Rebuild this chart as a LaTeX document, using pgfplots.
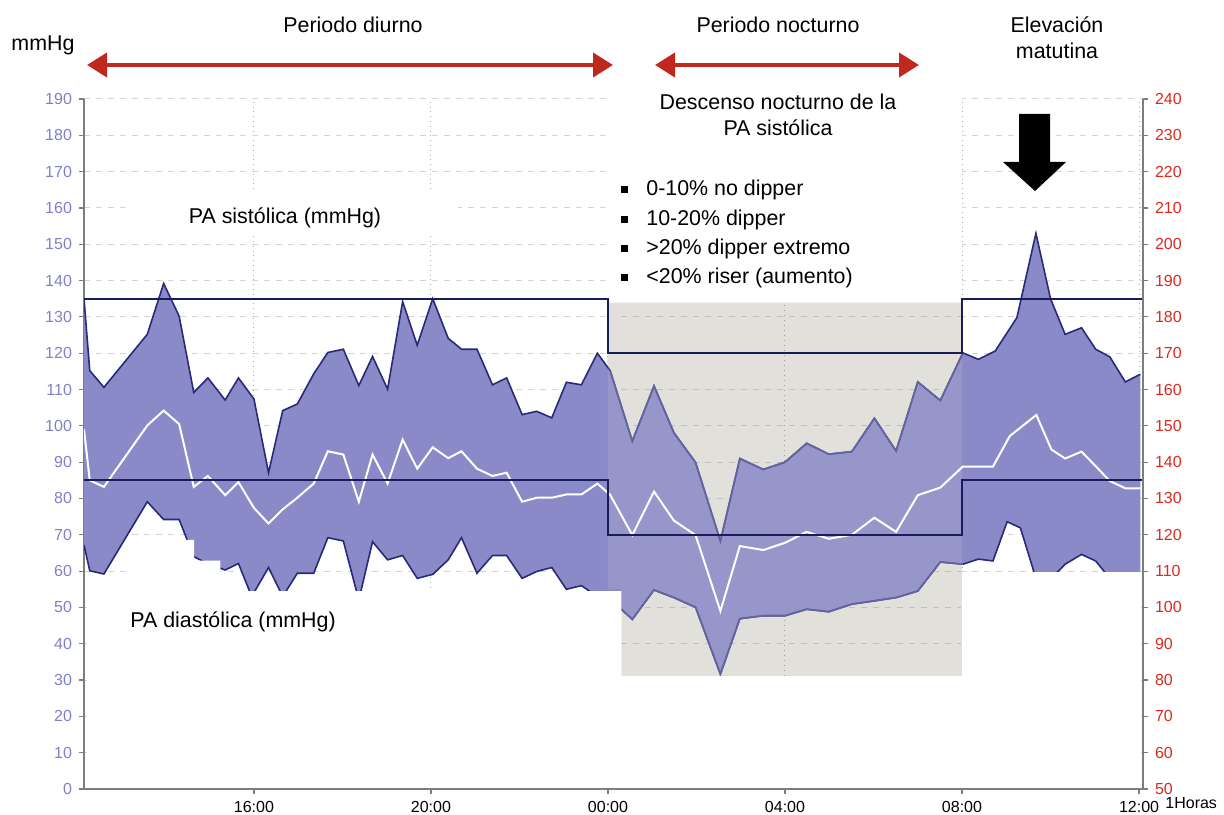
\documentclass[border=0pt]{standalone}
\usepackage{fontspec}
\setmainfont{Liberation Sans}
\usepackage{pgfplots}
\usepackage{pgfplotstable}
\pgfplotsset{compat=1.18}
\usetikzlibrary{arrows.meta}
\definecolor{band}{RGB}{138,138,200}
\definecolor{navy}{RGB}{40,42,120}
\definecolor{navylight}{RGB}{100,100,160}
\definecolor{thr}{RGB}{24,28,90}
\definecolor{ngrey}{RGB}{226,224,219}
\definecolor{nightband}{RGB}{160,150,200}
\definecolor{tickblue}{RGB}{128,128,200}
\definecolor{tickred}{RGB}{222,40,28}
\definecolor{arrred}{RGB}{192,40,30}
\definecolor{gridc}{RGB}{212,212,212}
\definecolor{axisc}{RGB}{125,125,125}
\newcommand\ann{\fontsize{10.7}{13}\selectfont}
\newcommand\tck{\fontsize{8}{9.5}\selectfont}

% systolic (upper envelope)
\pgfplotstableread{
h v
0.16 135
0.29 115.2
0.61 110.6
1.59 125.2
1.96 139.2
2.31 130.2
2.64 109.2
2.96 113.2
3.35 107.1
3.65 113.2
4.00 107.4
4.33 87.1
4.65 104.2
4.98 106.0
5.35 114.3
5.67 120.2
6.02 121.1
6.37 111.1
6.68 119.1
7.02 110.1
7.36 134.2
7.69 122.2
8.04 135.0
8.39 124.1
8.69 121.1
9.04 121.1
9.39 111.3
9.71 113.2
10.06 103.1
10.39 104.0
10.73 102.2
11.06 112.0
11.40 111.3
11.76 120.0
12.05 115.2
12.55 95.8
13.04 111.0
13.49 98.1
13.98 89.9
14.54 68.3
14.98 91.0
15.51 88.0
16.00 90.0
16.49 95.2
16.99 92.2
17.51 92.9
18.02 102.1
18.51 93.1
19.00 112.1
19.51 107.0
20.02 120.1
20.37 118.3
20.75 120.6
21.24 129.8
21.67 153
22.00 135
22.33 125.2
22.70 127.0
23.02 121.1
23.34 119.0
23.69 112.1
24.03 114.2
}\sys

% mean (white line)
\pgfplotstableread{
h v
0.16 99
0.29 85
0.61 83.2
1.59 100.1
1.96 104.2
2.31 100.5
2.64 83.2
2.96 86.2
3.35 80.9
3.65 84.5
4.00 77.4
4.33 73.1
4.65 77.0
4.98 80.2
5.35 84.1
5.67 93.0
6.02 92.1
6.37 79.1
6.68 92.1
7.02 84.1
7.36 96.2
7.69 88.2
8.04 94.1
8.39 91.1
8.69 93.0
9.04 88.2
9.39 86.2
9.71 87.1
10.06 79.1
10.39 80.2
10.73 80.2
11.06 81.1
11.40 81.1
11.76 84.1
12.05 81
12.55 69.9
13.04 81.9
13.49 73.9
13.98 69.9
14.54 49.0
14.98 66.9
15.51 65.8
16.00 67.8
16.49 70.8
16.99 68.9
17.51 70.0
18.02 74.7
18.51 70.8
19.00 80.9
19.51 83.0
20.02 88.8
20.70 88.8
21.08 97.2
21.68 103.0
22.02 93.5
22.33 91.0
22.70 92.9
23.02 88.9
23.34 84.8
23.69 82.8
24.03 82.8
}\mean

% diastolic (lower envelope), right to left
\pgfplotstableread{
h v
24.03 58
23.34 58
23.02 62.8
22.70 64.6
22.33 61.9
22.02 58
21.67 58
21.32 71.9
21.02 73.6
20.70 62.8
20.37 63.3
20.02 61.9
19.51 62.5
19.00 54.5
18.51 52.7
18.02 51.8
17.51 50.9
16.99 48.8
16.49 49.5
16.00 47.7
15.51 47.7
14.98 46.9
14.54 31.6
13.98 50.0
13.49 52.7
13.04 54.8
12.55 46.7
12.30 49.5
12.05 52
11.76 53
11.40 56.0
11.06 55
10.73 61.0
10.39 59.9
10.06 58.0
9.71 64.3
9.39 64.3
9.04 59.4
8.69 69.2
8.39 63.1
8.04 59.1
7.69 58.0
7.36 64.3
7.02 63.1
6.68 68.1
6.37 52
6.02 68.3
5.67 69.2
5.35 59.4
4.98 59.4
4.65 53
4.33 61.0
3.95 53
3.65 62.1
3.35 60.3
2.96 62
2.64 64
2.31 74.2
1.96 74.2
1.59 79.1
0.61 59.2
0.29 60.1
0.16 67.2
}\dia

% band polygon = systolic followed by diastolic (right to left)
\pgfplotstablevertcat{\band}{\sys}
\pgfplotstablevertcat{\band}{\dia}

\begin{document}
\begin{tikzpicture}[x=0.5pt,y=0.5pt]
\useasboundingbox (0,0) rectangle (1224,814);
\begin{axis}[
  at={(42pt,12.5pt)}, anchor=south west,
  width=529.5pt, height=345pt, scale only axis,
  xmin=0.16, xmax=24.09, ymin=0, ymax=190,
  axis lines*=left,
  axis line style={axisc, line width=1pt},
  xtick={4,8,12,16,20,24},
  xticklabels={16:00,20:00,00:00,04:00,08:00,12:00},
  ytick={0,10,...,190},
  ymajorgrids, xmajorgrids,
  y grid style={gridc, dashed, line width=0.5pt},
  x grid style={gridc!80!black, dotted, line width=0.5pt},
  tick align=outside, major tick length=2.5pt,
  tick style={axisc, line width=0.6pt},
  tick label style={font=\tck},
  yticklabel style={tickblue},
  /pgf/number format/assume math mode=true,
]
% night background
\addplot[draw=none, fill=ngrey] coordinates {(12,55) (12,133.9) (20,133.9) (20,31) (12.3,31) (12.3,55)};
\pgfplotsinvokeforeach{40,50,...,130}{
  \addplot[gridc!88!black, dashed, line width=0.5pt] coordinates {(12.3,#1) (19.98,#1)};
}
\addplot[gridc!70!black, dotted, line width=0.5pt] coordinates {(16,31) (16,133.9)};
% band
\addplot[draw=none, fill=band] table[x=h,y=v] {\band};
\addplot[navy, line width=0.8pt] table[x=h,y=v] {\sys};
\addplot[navy, line width=0.8pt] table[x=h,y=v] {\dia};
% night overlay
\addplot[draw=none, fill=ngrey, fill opacity=0.15] coordinates {(12,55) (12,133.9) (20,133.9) (20,31) (12.3,31) (12.3,55)};
\addplot[navylight, line width=0.8pt, restrict x to domain=12:20.03] table[x=h,y=v] {\sys};
\addplot[navylight, line width=0.8pt, restrict x to domain=12:20.03] table[x=h,y=v] {\dia};
\addplot[white, line width=1pt] table[x=h,y=v] {\mean};
% white patches (collage)
\addplot[draw=none, fill=white] coordinates {(1.13,0.8) (1.13,68.6) (2.65,68.6) (2.65,62.9) (3.24,62.9) (3.24,54.5) (12.3,54.5) (12.3,0.8)};
\addplot[draw=none, fill=white] coordinates {(0.22,0.8) (0.22,54.5) (1.2,54.5) (1.2,0.8)};
\addplot[draw=none, fill=white] coordinates {(12.2,0.8) (12.2,31) (20.02,31) (20.02,0.8)};
\addplot[draw=none, fill=white] coordinates {(20.0,0.8) (20.0,59.8) (24.04,59.8) (24.04,0.8)};
\addplot[draw=none, fill=white] coordinates {(11.95,134) (11.95,191) (20.0,191) (20.0,134)};
\addplot[draw=none, fill=white] coordinates {(1.1,152.3) (1.1,164) (8.6,164) (8.6,152.3)};
% thresholds
\addplot[thr, line width=1.1pt] coordinates {(0.16,135) (12,135) (12,120) (20,120) (20,135) (24.09,135)};
\addplot[thr, line width=1.1pt] coordinates {(0.16,85) (12,85) (12,70) (20,70) (20,85) (24.09,85)};
\end{axis}
\begin{axis}[
  at={(42pt,12.5pt)}, anchor=south west,
  width=529.5pt, height=345pt, scale only axis,
  xmin=0.16, xmax=24.09, ymin=50, ymax=240,
  axis y line*=right, axis x line*=bottom,
  x axis line style={draw=none}, xtick=\empty,
  axis line style={axisc, line width=1pt},
  ytick={50,60,...,240},
  tick align=outside, major tick length=2.5pt,
  tick style={axisc, line width=0.6pt},
  tick label style={font=\tck},
  yticklabel style={tickred},
  /pgf/number format/assume math mode=true,
]
\addplot[draw=none] coordinates {(1,60) (2,70)};
\end{axis}
% annotations
\node[font=\ann] at (43,769) {mmHg};
\node[font=\ann] at (353,789) {Periodo diurno};
\node[font=\ann] at (778,789) {Periodo nocturno};
\node[font=\ann, align=center] at (1057,776) {Elevación\\matutina};
\draw[arrred, line width=2pt, {Triangle[length=10pt,width=12pt]}-{Triangle[length=10pt,width=12pt]}] (87,749) -- (613,749);
\draw[arrred, line width=2pt, {Triangle[length=10pt,width=12pt]}-{Triangle[length=10pt,width=12pt]}] (655,749) -- (919,749);
\fill[black] (1019,700) -- (1050,700) -- (1050,652) -- (1066,652) -- (1035,623) -- (1003,652) -- (1019,652) -- cycle;
\node[font=\ann, align=center] at (778,699) {Descenso nocturno de la\\PA sistólica};
\foreach \yy/\tx in {624/{0-10\% no dipper}, 594/{10-20\% dipper}, 565/{>20\% dipper extremo}, 536/{<20\% riser (aumento)}} {
  \fill[black] (621,\yy-3.5) rectangle (628,\yy+3.5);
  \node[font=\ann, anchor=west, inner sep=0pt] at (646,\yy) {\tx};
}
\node[font=\ann] at (285,596) {PA sistólica (mmHg)};
\node[font=\ann, anchor=west, inner sep=0pt] at (130,192) {PA diastólica (mmHg)};
\node[font=\tck, anchor=west, inner sep=0pt] at (1165,11) {1Horas};
\end{tikzpicture}
\end{document}
